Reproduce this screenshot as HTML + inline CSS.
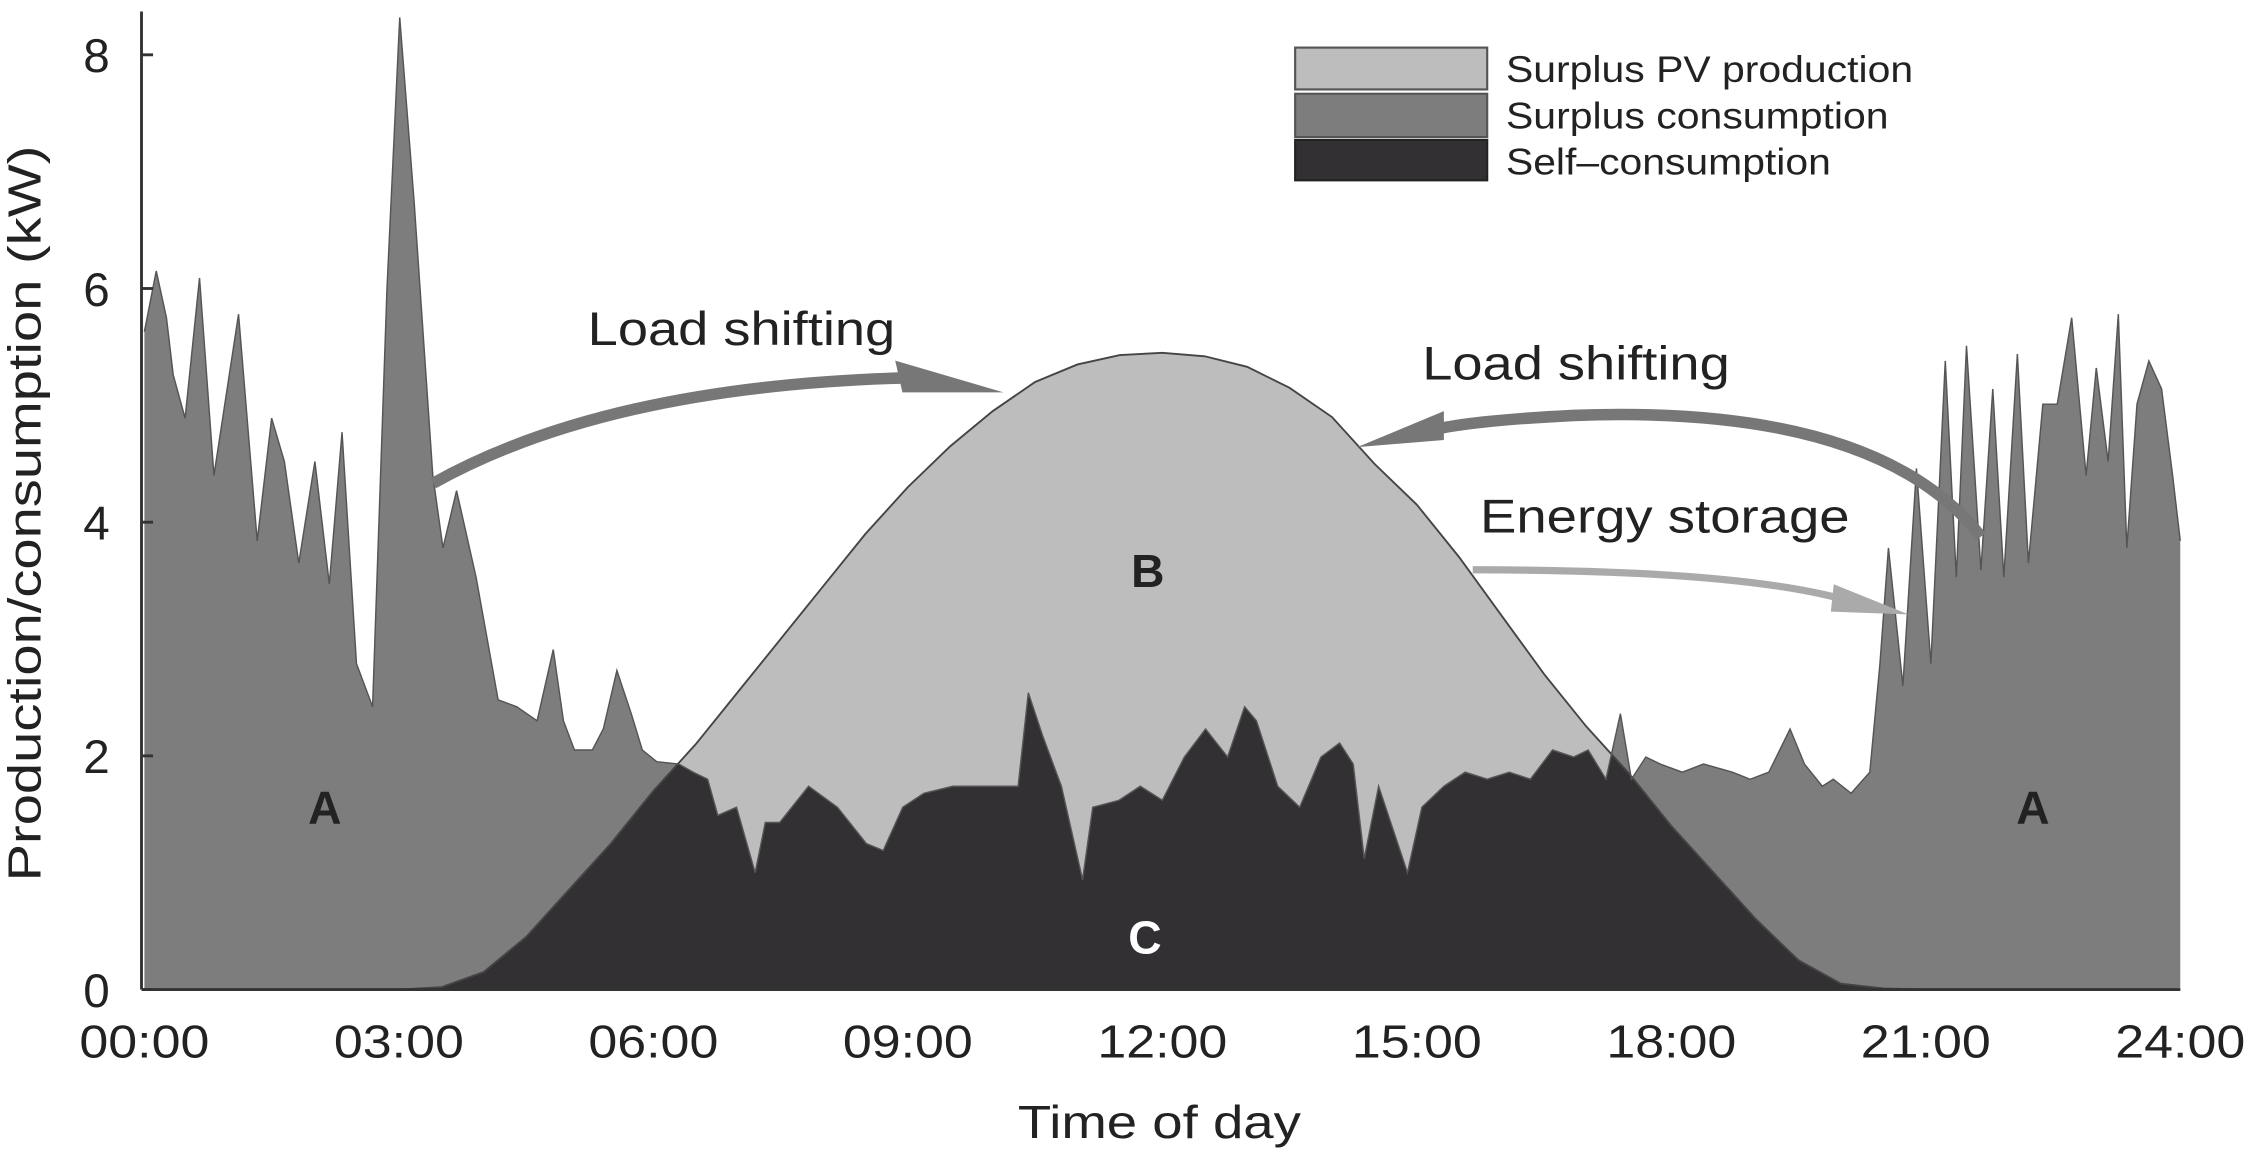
<!DOCTYPE html>
<html><head><meta charset="utf-8"><style>
html,body{margin:0;padding:0;background:#fff;}
svg{display:block;font-family:"Liberation Sans",sans-serif;}
</style></head><body>
<svg id="chart" width="2264" height="1154" viewBox="0 0 1568 800" preserveAspectRatio="none" xmlns="http://www.w3.org/2000/svg">
<g id="areas"></g>
<g id="axes"></g>
<g>
<path d="M300,335 Q420,268 625,262" fill="none" stroke="#777" stroke-width="8"/>
<polygon points="620,250 695,272 625,272" fill="#777"/>
<path d="M1372,372 Q1300,280 1090,288 Q1010,292 985,300" fill="none" stroke="#777" stroke-width="8"/>
<polygon points="1000,285 940,310 1000,305" fill="#777"/>
<path d="M1020,395 Q1200,395 1275,415" fill="none" stroke="#aaa" stroke-width="5"/>
<polygon points="1270,405 1322,426 1268,424" fill="#aaa"/>
<text x="407" y="239" font-size="33" textLength="213" lengthAdjust="spacingAndGlyphs" fill="#222">Load shifting</text>
<text x="985" y="263" font-size="33" textLength="213" lengthAdjust="spacingAndGlyphs" fill="#222">Load shifting</text>
<text x="1025" y="369" font-size="33" textLength="256" lengthAdjust="spacingAndGlyphs" fill="#222">Energy storage</text>
<text x="795" y="407" font-size="32" font-weight="bold" text-anchor="middle" fill="#222">B</text>
<text x="225" y="571" font-size="32" font-weight="bold" text-anchor="middle" fill="#222">A</text>
<text x="1408" y="571" font-size="32" font-weight="bold" text-anchor="middle" fill="#222">A</text>
<text x="793" y="661" font-size="32" font-weight="bold" text-anchor="middle" fill="#fff">C</text>
</g>
<g>
<rect x="897" y="33" width="133" height="29" fill="#bdbdbd" stroke="#555" stroke-width="1.5"/>
<text x="1043" y="57" font-size="26" textLength="282" lengthAdjust="spacingAndGlyphs" fill="#222">Surplus PV production</text>
<rect x="897" y="65" width="133" height="30" fill="#7d7d7d" stroke="#555" stroke-width="1.5"/>
<text x="1043" y="89" font-size="26" textLength="265" lengthAdjust="spacingAndGlyphs" fill="#222">Surplus consumption</text>
<rect x="897" y="97" width="133" height="28" fill="#323032" stroke="#222" stroke-width="1.5"/>
<text x="1043" y="121" font-size="26" textLength="225" lengthAdjust="spacingAndGlyphs" fill="#222">Self–consumption</text>
</g>
<text x="803" y="789" font-size="32" textLength="196" lengthAdjust="spacingAndGlyphs" text-anchor="middle" fill="#222">Time of day</text>
<text transform="translate(28,356) rotate(-90)" font-size="32" textLength="510" lengthAdjust="spacingAndGlyphs" text-anchor="middle" fill="#222">Production/consumption (kW)</text>
</svg>
<script>
const pvHours = [0,0.5,1,1.5,2,2.5,3,3.5,4,4.5,5,5.5,6,6.5,7,7.5,8,8.5,9,9.5,10,10.5,11,11.5,12,12.5,13,13.5,14,14.5,15,15.5,16,16.5,17,17.5,18,18.5,19,19.5,20,20.5,21,21.5,22,22.5,23,23.5,24];
const pvValues = [0,0,0,0,0,0,0,0.02,0.15,0.45,0.85,1.25,1.7,2.1,2.55,3.0,3.45,3.9,4.3,4.65,4.95,5.2,5.35,5.43,5.45,5.42,5.33,5.15,4.9,4.5,4.15,3.7,3.2,2.7,2.25,1.85,1.4,1.0,0.6,0.25,0.05,0.01,0,0,0,0,0,0,0];
const loadHours = [0,0.14,0.26,0.34,0.48,0.65,0.82,1.11,1.33,1.5,1.65,1.82,2.01,2.18,2.33,2.5,2.69,2.86,3.01,3.18,3.4,3.52,3.68,3.91,4.17,4.39,4.63,4.82,4.94,5.07,5.28,5.41,5.57,5.74,5.87,6.04,6.3,6.47,6.64,6.76,6.98,7.2,7.32,7.49,7.83,8.17,8.51,8.71,8.94,9.19,9.53,9.87,10.3,10.42,10.59,10.81,11.06,11.18,11.49,11.74,12,12.26,12.51,12.77,12.97,13.11,13.36,13.62,13.87,14.09,14.25,14.38,14.55,14.72,14.89,15.06,15.32,15.57,15.83,16.09,16.34,16.6,16.85,17.02,17.23,17.4,17.53,17.7,17.87,18.13,18.38,18.72,18.93,19.15,19.4,19.57,19.78,19.91,20.12,20.34,20.46,20.56,20.73,20.89,21.06,21.23,21.36,21.48,21.65,21.79,21.92,22.08,22.21,22.38,22.55,22.72,22.89,23.01,23.15,23.27,23.37,23.49,23.63,23.78,23.91,24];
const loadValues = [5.63,6.15,5.75,5.26,4.89,6.09,4.4,5.78,3.84,4.89,4.52,3.65,4.52,3.47,4.77,2.79,2.42,6.0,8.32,6.74,4.4,3.78,4.27,3.53,2.48,2.42,2.3,2.91,2.3,2.05,2.05,2.23,2.73,2.36,2.05,1.95,1.93,1.86,1.8,1.49,1.56,1.0,1.43,1.43,1.74,1.56,1.25,1.19,1.56,1.68,1.74,1.74,1.74,2.54,2.17,1.74,0.94,1.56,1.62,1.74,1.62,1.99,2.23,1.99,2.42,2.3,1.74,1.56,1.99,2.11,1.93,1.12,1.74,1.37,1.0,1.56,1.74,1.86,1.8,1.86,1.8,2.05,1.99,2.05,1.8,2.36,1.8,1.99,1.93,1.86,1.93,1.86,1.8,1.86,2.23,1.93,1.74,1.8,1.68,1.86,2.79,3.78,2.6,4.46,2.79,5.38,3.53,5.51,3.59,5.14,3.53,5.44,3.65,5.01,5.01,5.75,4.4,5.32,4.52,5.78,3.78,5.01,5.38,5.14,4.4,3.84];
const yTicks = [0,2,4,6,8];
const xTickHours = [0,3,6,9,12,15,18,21,24];
const xTickLabels = ["00:00","03:00","06:00","09:00","12:00","15:00","18:00","21:00","24:00"];

const X0=100, X1=1510, Y0=686, PXKW=81;
const xs = h => X0 + (X1-X0)*h/24;
const ys = v => Y0 - v*PXKW;
const NS="http://www.w3.org/2000/svg";
function interp(hs, vs, t){
  for(let i=0;i<hs.length-1;i++){ if(t>=hs[i]&&t<=hs[i+1]){const f=(t-hs[i])/((hs[i+1]-hs[i])||1);return vs[i]+f*(vs[i+1]-vs[i]);} }
  return vs[vs.length-1];
}
function areaPath(pts){
  let d="M"+xs(0)+","+ys(0);
  pts.forEach(p=>{d+=" L"+xs(p[0]).toFixed(2)+","+ys(p[1]).toFixed(2);});
  return d+" L"+xs(24)+","+ys(0)+" Z";
}
function linePath(pts){return pts.map((p,i)=>(i?"L":"M")+xs(p[0]).toFixed(2)+","+ys(p[1]).toFixed(2)).join(" ");}
const areas=document.getElementById('areas');
function add(tag, attrs, name){
  const el=document.createElementNS(NS,tag);
  for(const k in attrs) el.setAttribute(k,attrs[k]);
  
  
  return el;
}
const pvPts=pvHours.map((h,i)=>[h,pvValues[i]]);
const loadPts=loadHours.map((h,i)=>[h,loadValues[i]]);
const grid=new Set(pvHours.concat(loadHours));
for(let t=0;t<=24;t+=0.02) grid.add(Math.round(t*100)/100);
const times=[...grid].sort((a,b)=>a-b);
const minPts=times.map(t=>[t,Math.min(interp(pvHours,pvValues,t),interp(loadHours,loadValues,t))]);
const pvArea=add('path',{d:areaPath(pvPts),fill:'#bdbdbd'},'surplus-pv-area');
areas.appendChild(pvArea);
const loadArea=add('path',{d:areaPath(loadPts),fill:'#7d7d7d'},'surplus-consumption-area');
areas.appendChild(loadArea);
const selfArea=add('path',{d:areaPath(minPts),fill:'#323032'},'self-consumption-area');
areas.appendChild(selfArea);
const pvLine=add('path',{d:linePath(pvPts),fill:'none',stroke:'#444','stroke-width':1.3},'pv-production-line');
areas.appendChild(pvLine);
const loadLine=add('path',{d:linePath(loadPts),fill:'none',stroke:'#555','stroke-width':1},'consumption-line');
areas.appendChild(loadLine);

const axes=document.getElementById('axes');
const yAxis=add('line',{x1:98,y1:8,x2:98,y2:Y0,stroke:'#333','stroke-width':2},'y-axis-line');
axes.appendChild(yAxis);
const xAxis=add('line',{x1:98,y1:Y0,x2:X1,y2:Y0,stroke:'#333','stroke-width':2},'x-axis-line');
axes.appendChild(xAxis);
yTicks.forEach(v=>{
  const tk=add('line',{x1:98,y1:ys(v),x2:106,y2:ys(v),stroke:'#333','stroke-width':2},'y-tick');
  axes.appendChild(tk);
  const t=add('text',{x:76,y:ys(v)+12,'font-size':33,'text-anchor':'end',fill:'#222'},'y-tick-label');
  t.textContent=v; axes.appendChild(t);
});
xTickHours.forEach((h,i)=>{
  const t=add('text',{x:xs(h),y:733,'font-size':32,'text-anchor':'middle',textLength:90,lengthAdjust:'spacingAndGlyphs',fill:'#222'},'x-tick-label');
  t.textContent=xTickLabels[i]; axes.appendChild(t);
});
</script>
</body></html>
